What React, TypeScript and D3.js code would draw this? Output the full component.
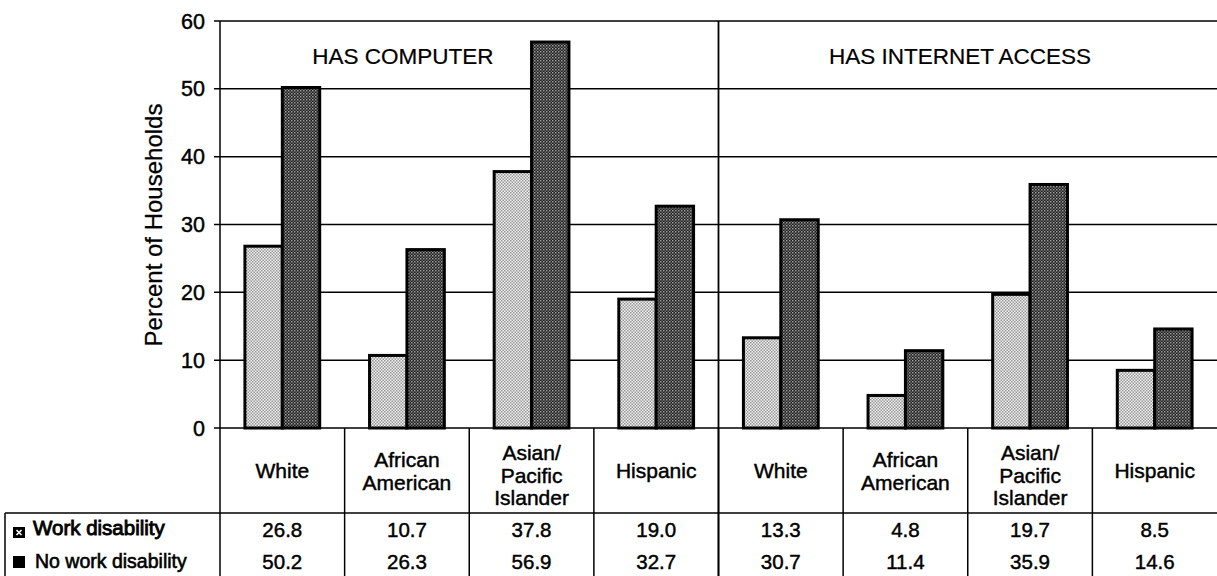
import React from "react";
import * as d3 from "d3";

const panels = ["HAS COMPUTER", "HAS INTERNET ACCESS"];
const categories = [
  ["White"],
  ["African", "American"],
  ["Asian/", "Pacific", "Islander"],
  ["Hispanic"],
];
const seriesNames = ["Work disability", "No work disability"];
const workDisability = [26.8, 10.7, 37.8, 19.0, 13.3, 4.8, 19.7, 8.5];
const noWorkDisability = [50.2, 26.3, 56.9, 32.7, 30.7, 11.4, 35.9, 14.6];
const yTicks = [0, 10, 20, 30, 40, 50, 60];

const W = 1217;
const H = 576;
const FONT = "'Liberation Sans', Arial, Helvetica, sans-serif";

export default function App() {
  const cols = d3.range(8);
  const x = d3.scaleBand<number>().domain(cols).range([220, 1217]).padding(0);
  const bw = x.bandwidth();
  const inner = d3
    .scaleBand<number>()
    .domain([0, 1])
    .range([bw * 0.2, bw * 0.8])
    .padding(0);
  const y = d3.scaleLinear().domain([0, 60]).range([428, 21]);
  const series = [workDisability, noWorkDisability];
  const fills = ["url(#light)", "url(#dark)"];
  const tableTop = 428;
  const rowTop = 513;
  const rowBaselines = [537, 569];
  const heavy = { stroke: "#000", strokeWidth: 0.45 };

  return (
    <div style={{ position: "absolute", left: 0, top: 0 }}>
      <svg width={W} height={H} style={{ display: "block", background: "#fff" }} fontFamily={FONT}>
        <defs>
          <pattern id="light" width="3" height="3" patternUnits="userSpaceOnUse">
            <rect width="3" height="3" fill="#f4f4f4" />
            <rect x="0" y="0" width="1.5" height="1.5" fill="#949494" />
            <rect x="1.5" y="1.5" width="1.5" height="1.5" fill="#949494" />
          </pattern>
          <pattern id="dark" width="3" height="3" patternUnits="userSpaceOnUse">
            <rect width="3" height="3" fill="#1e1e1e" />
            <rect x="0" y="0" width="1.5" height="1.5" fill="#a0a0a0" />
            <rect x="1.5" y="1.5" width="1.5" height="1.5" fill="#6a6a6a" />
          </pattern>
        </defs>

        {/* gridlines */}
        {yTicks.map((t) => (
          <line key={"g" + t} x1={214} x2={W} y1={y(t)} y2={y(t)} stroke="#000" strokeWidth={1.5} />
        ))}
        {/* tick labels */}
        {yTicks.map((t) => (
          <text key={"t" + t} x={205} y={y(t) + 7.5} textAnchor="end" fontSize={21.5} fill="#000" {...heavy}>
            {t}
          </text>
        ))}
        {/* y axis line */}
        <line x1={220} x2={220} y1={y(60)} y2={H} stroke="#000" strokeWidth={1.5} />
        {/* panel divider */}
        <line x1={x(4)} x2={x(4)} y1={y(60)} y2={H} stroke="#000" strokeWidth={1.8} />

        {/* y label */}
        <text
          transform={`translate(162,225) rotate(-90)`}
          textAnchor="middle"
          fontSize={24}
          fill="#000"
          stroke="#000"
          strokeWidth={0.25}
        >
          Percent of Households
        </text>

        {/* panel titles */}
        <text x={403} y={64} textAnchor="middle" fontSize={22.5} fill="#000" stroke="#000" strokeWidth={0.2}>
          {panels[0]}
        </text>
        <text x={960} y={64} textAnchor="middle" fontSize={22.5} fill="#000" stroke="#000" strokeWidth={0.2}>
          {panels[1]}
        </text>

        {/* bars */}
        {cols.map((c) =>
          series.map((s, si) => (
            <rect
              key={`b${c}-${si}`}
              x={(x(c) as number) + (inner(si) as number)}
              y={y(s[c])}
              width={inner.bandwidth()}
              height={y(0) - y(s[c])}
              fill={fills[si]}
              stroke="#000"
              strokeWidth={3}
            />
          ))
        )}

        {/* table column dividers */}
        {cols.slice(1).map((c) => (
          <line key={"v" + c} x1={x(c)} x2={x(c)} y1={tableTop} y2={H} stroke="#000" strokeWidth={1.5} />
        ))}
        {/* row line */}
        <line x1={5} x2={W} y1={rowTop} y2={rowTop} stroke="#000" strokeWidth={1.5} />
        <line x1={5} x2={5} y1={rowTop} y2={H} stroke="#000" strokeWidth={1.5} />

        {/* category labels */}
        {cols.map((c) => {
          const lines = categories[c % 4];
          const cx = (x(c) as number) + bw / 2;
          const lh = 23;
          const start = lines.length === 3 ? 460 : 478 - ((lines.length - 1) * lh) / 2;
          return (
            <text key={"c" + c} textAnchor="middle" fontSize={21} fill="#000" {...heavy}>
              {lines.map((l, i) => (
                <tspan key={i} x={cx} y={start + i * (lines.length === 3 ? 22.5 : lh)}>
                  {l}
                </tspan>
              ))}
            </text>
          );
        })}

        {/* values */}
        {series.map((s, si) =>
          cols.map((c) => (
            <text
              key={`v${si}-${c}`}
              x={(x(c) as number) + bw / 2}
              y={rowBaselines[si]}
              textAnchor="middle"
              fontSize={20.5}
              fill="#000"
              {...heavy}
            >
              {s[c].toFixed(1)}
            </text>
          ))
        )}

        {/* row labels with legend keys */}
        <rect x={13} y={527} width={12} height={11} fill="#000" />
        <path d="M16.5,530 L21.5,535 M21.5,530 L16.5,535" stroke="#fff" strokeWidth={1.6} />
        <text x={33} y={535} fontSize={20.5} fill="#000" stroke="#000" strokeWidth={0.9}>
          {seriesNames[0]}
        </text>
        <rect x={13} y={556} width={12} height={12} fill="#000" />
        <text x={35} y={568} fontSize={19.5} fill="#000" stroke="#000" strokeWidth={0.6}>
          {seriesNames[1]}
        </text>
      </svg>
    </div>
  );
}
